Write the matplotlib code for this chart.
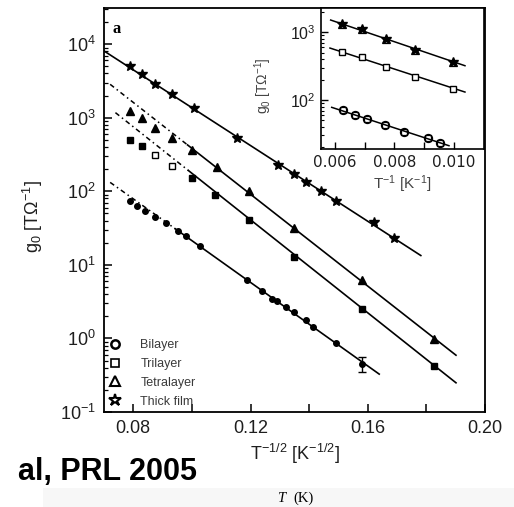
import numpy as np
import matplotlib
matplotlib.use('Agg')
import matplotlib.pyplot as plt
from matplotlib.lines import Line2D
from matplotlib.patches import Rectangle
from matplotlib.ticker import LogLocator, NullFormatter, FixedLocator, FixedFormatter

plt.rcParams['font.family'] = ['Liberation Sans', 'DejaVu Sans']
plt.rcParams['mathtext.fontset'] = 'custom'
plt.rcParams['mathtext.rm'] = 'Liberation Sans'
plt.rcParams['mathtext.it'] = 'Liberation Sans:italic'
plt.rcParams['mathtext.bf'] = 'Liberation Sans:bold'

# ---------------- main panel data (x = T^-1/2, g0 in TOhm^-1) ----------------
thick_x = [0.07897, 0.08297, 0.08752, 0.09323, 0.10062, 0.11545, 0.1294, 0.1348,
           0.1388, 0.14393, 0.14923, 0.16205, 0.16899]
thick_g = [5040, 3880, 2840, 2120, 1345, 537, 226, 171, 132, 99.8, 73.9, 37.8, 23.3]

tetra_x = [0.07897, 0.08297, 0.08752, 0.09323, 0.10007, 0.10862, 0.11942, 0.13481,
           0.15819, 0.18267]
tetra_g = [1236, 985, 721, 527, 368, 211, 102, 31.9, 6.28, 0.997]

tri_x = [0.07897, 0.08297, 0.08752, 0.09323, 0.10007, 0.10803, 0.11942, 0.13481,
         0.15819, 0.18256]
tri_g = [500, 415, 313, 222, 151, 89.9, 40.8, 12.7, 2.52, 0.426]
tri_open = [False, False, True, True, False, False, False, False, False, False]

bi_x = [0.07897, 0.08137, 0.0841, 0.08752, 0.09128, 0.09521, 0.09812, 0.10291,
        0.11887, 0.124, 0.12742, 0.12913, 0.13197, 0.13481, 0.13881, 0.14144,
        0.14906, 0.15819]
bi_g = [73.4, 63.8, 54.6, 44.6, 37.6, 29.3, 25.0, 18.0, 6.15, 4.43, 3.47, 3.22,
        2.69, 2.29, 1.76, 1.43, 0.88, 0.447]
bi_err_x = [0.15819]
bi_err_g = [0.447]
bi_err_lo = [0.096]
bi_err_hi = [0.104]

# fit lines: thick film, tetralayer, trilayer, bilayer
fit_x0 = [0.0701, 0.0721, 0.0739, 0.0721]
fit_xs = [0.0701, 0.0985, 0.0988, 0.0944]   # solid from here, dash-dot before
fit_x1 = [0.1781, 0.1901, 0.1901, 0.1639]
fit_lg0 = [3.905, 3.454, 3.069, 2.121]
fit_lg1 = [1.127, -0.228, -0.603, -0.485]

xticks_major = [0.08, 0.12, 0.16, 0.20]
xtick_labels = ['0.08', '0.12', '0.16', '0.20']
xticks_minor = [0.10, 0.14, 0.18]

legend_labels = ['Bilayer', 'Trilayer', 'Tetralayer', 'Thick film']

# ---------------- inset data (x = T^-1) ----------------
in_x = [0.006225, 0.006897, 0.007714, 0.008689, 0.009966]
in_top_g = [1313, 1107, 788, 548, 368]
in_mid_g = [517, 427, 304, 216, 145]
in_bot_x = [0.00626, 0.00667, 0.00709, 0.00768, 0.00832, 0.00912, 0.00953]
in_bot_g = [71.1, 60, 51.9, 42.8, 34.1, 27.8, 23.4]
in_fit_x0 = [0.005855, 0.005832, 0.00589]
in_fit_x1 = [0.01037, 0.01037, 0.009832]
in_fit_lg0 = [3.182, 2.768, 1.892]
in_fit_lg1 = [2.507, 2.118, 1.325]
in_xticks = [0.006, 0.008, 0.010]
in_xtick_labels = ['0.006', '0.008', '0.010']
in_xticks_minor = [0.007, 0.009]

W, H = 514, 507
fig = plt.figure(figsize=(W / 100, H / 100), dpi=100)
fig.patch.set_facecolor('white')
fig.patches.append(Rectangle((43 / W, 0), 1, 19 / H, transform=fig.transFigure,
                             facecolor='#f7f7f7', edgecolor='none', zorder=0))

TC = '#1e1e1e'


def fx(px):
    return px / W


def fy(py):
    return 1 - py / H


ax = fig.add_axes([fx(104), fy(412), (485 - 104) / W, (412 - 8) / H])
ax.set_yscale('log')
ax.set_xlim(0.0700, 0.200)
ax.set_ylim(0.1, 3.1e4)
for s in ax.spines.values():
    s.set_linewidth(1.3)

ax.yaxis.set_major_locator(LogLocator(base=10, numticks=10))
ax.yaxis.set_minor_locator(LogLocator(base=10, subs=np.arange(2, 10), numticks=20))
ax.yaxis.set_minor_formatter(NullFormatter())
ax.xaxis.set_major_locator(FixedLocator(xticks_major))
ax.xaxis.set_major_formatter(FixedFormatter(xtick_labels))
ax.xaxis.set_minor_locator(FixedLocator(xticks_minor))
ax.tick_params(which='both', direction='in', top=False, right=False, colors='black',
               labelcolor=TC, labelsize=13)
ax.tick_params(which='major', length=6, width=1.1, pad=6)
ax.tick_params(axis='x', which='minor', length=6, width=1.1)
ax.tick_params(axis='y', which='minor', length=3, width=0.9)

# fit lines
for x0, xs, x1, l0, l1 in zip(fit_x0, fit_xs, fit_x1, fit_lg0, fit_lg1):
    slope = (l1 - l0) / (x1 - x0)
    if xs > x0:
        xd = np.linspace(x0, xs, 20)
        ax.plot(xd, 10 ** (l0 + slope * (xd - x0)), color='black', lw=1.1,
                dashes=(3.2, 2.2, 1.0, 2.2), zorder=2)
    xsol = np.linspace(xs, x1, 50)
    ax.plot(xsol, 10 ** (l0 + slope * (xsol - x0)), color='black', lw=1.2, zorder=2)

ax.plot(thick_x, thick_g, ls='none', marker='*', ms=7, color='black', zorder=3)
ax.plot(tetra_x, tetra_g, ls='none', marker='^', ms=5.5, color='black', zorder=3)
for x, g, op in zip(tri_x, tri_g, tri_open):
    ax.plot([x], [g], ls='none', marker='s', ms=4.8, mec='black', mew=1.0,
            mfc='white' if op else 'black', zorder=3)
ax.plot(bi_x, bi_g, ls='none', marker='o', ms=4.0, color='black', zorder=3)
ax.errorbar(bi_err_x, bi_err_g, yerr=[bi_err_lo, bi_err_hi], fmt='none',
            ecolor='black', elinewidth=1.0, capsize=3, zorder=3)

ax.text(0.034, 0.948, 'a', transform=ax.transAxes, fontsize=12, fontweight='bold',
        family='Liberation Serif', ha='center', va='center')

ax.set_xlabel(r'T$^{-1/2}$ [K$^{-1/2}$]', fontsize=13, color=TC, labelpad=3)
fig.text(fx(33), fy(217), r'g$_0$ [TΩ$^{-1}$]', rotation=90, ha='center',
         va='center', fontsize=13, color=TC)

handles = [
    Line2D([], [], ls='none', marker='o', ms=6, mfc='white', mec='black', mew=1.8),
    Line2D([], [], ls='none', marker='s', ms=6, mfc='white', mec='black', mew=1.2),
    Line2D([], [], ls='none', marker='^', ms=7, mfc='white', mec='black', mew=1.5),
    Line2D([], [], ls='none', marker='*', ms=9, mfc='white', mec='black', mew=1.5),
]
leg = ax.legend(handles, legend_labels, loc='lower left', bbox_to_anchor=(0, 0),
                borderaxespad=0.0, borderpad=0.35, frameon=False, fontsize=9,
                handlelength=1.0, handletextpad=1.55, labelspacing=0.55)
for t in leg.get_texts():
    t.set_color('#3a3a3a')

# ---------------- inset ----------------
ins = fig.add_axes([fx(321), fy(149), (484 - 321) / W, (149 - 8) / H])
ins.set_facecolor('white')
ins.set_yscale('log')
ins.set_xlim(0.00553, 0.01101)
ins.set_ylim(18.9, 2290)
for s in ins.spines.values():
    s.set_linewidth(1.2)
ins.xaxis.set_major_locator(FixedLocator(in_xticks))
ins.xaxis.set_major_formatter(FixedFormatter(in_xtick_labels))
ins.xaxis.set_minor_locator(FixedLocator(in_xticks_minor))
ins.yaxis.set_major_locator(LogLocator(base=10, numticks=10))
ins.yaxis.set_minor_locator(LogLocator(base=10, subs=np.arange(2, 10), numticks=20))
ins.yaxis.set_minor_formatter(NullFormatter())
ins.tick_params(which='both', direction='in', top=False, right=False,
                labelcolor=TC, labelsize=11.5, pad=4)
ins.tick_params(which='major', length=5, width=1.0)
ins.tick_params(axis='x', which='minor', length=5, width=1.0)
ins.tick_params(axis='y', which='minor', length=2.5, width=0.8)
for lab in ins.get_xticklabels():
    lab.set_family('DejaVu Sans')
    lab.set_fontsize(11)

for x0, x1, l0, l1 in zip(in_fit_x0, in_fit_x1, in_fit_lg0, in_fit_lg1):
    slope = (l1 - l0) / (x1 - x0)
    xl = np.linspace(x0, x1, 40)
    ins.plot(xl, 10 ** (l0 + slope * (xl - x0)), color='black', lw=1.1, zorder=2)

ins.plot(in_x, in_top_g, ls='none', marker='*', ms=7, color='black', zorder=3)
ins.plot(in_x, in_top_g, ls='none', marker='^', ms=6, mfc='none', mec='black',
         mew=0.9, zorder=3)
ins.plot(in_x, in_mid_g, ls='none', marker='s', ms=4.5, mfc='white', mec='black',
         mew=1.0, zorder=3)
ins.plot(in_bot_x, in_bot_g, ls='none', marker='o', ms=5.5, mfc='none', mec='black',
         mew=1.2, zorder=3)
ins.plot(in_bot_x, in_bot_g, ls='none', marker='s', ms=4, mfc='none', mec='black',
         mew=0.9, zorder=3)

ins.set_xlabel(r'T$^{-1}$ [K$^{-1}$]', fontsize=11, color='#444444', labelpad=3)
fig.text(fx(263), fy(86), r'g$_0$ [TΩ$^{-1}$]', rotation=90, ha='center',
         va='center', fontsize=10, color='#444444')

# ---------------- extra page text ----------------
fig.text(fx(197), fy(480), 'al, PRL 2005', ha='right', va='baseline',
         fontsize=22, fontweight='bold', color='black')
fig.text(fx(277), fy(498), 'T', ha='left', va='center', fontsize=10.5,
         style='italic', family='Liberation Serif', color='black')
fig.text(fx(293), fy(498), '(K)', ha='left', va='center', fontsize=10.5,
         family='Liberation Serif', color='black')

fig.savefig('out.png', dpi=100, facecolor='white')
